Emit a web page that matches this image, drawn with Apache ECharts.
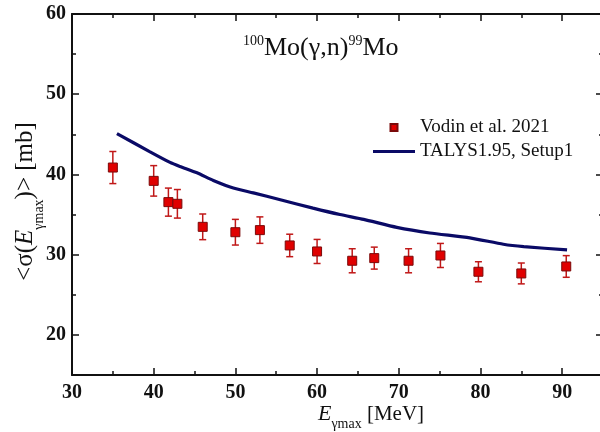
<!DOCTYPE html>
<html>
<head>
<meta charset="utf-8">
<script src="https://cdn.jsdelivr.net/npm/echarts@6/dist/echarts.min.js"></script>
<style>html,body{margin:0;padding:0;background:#fff}#c{width:600px;height:432px}</style>
</head>
<body>
<div id="c"></div>
<script>
// Experimental data: Vodin et al. 2021
const energies = [35, 40, 41.8, 42.9, 46, 50, 53, 56.65, 60, 64.3, 67, 71.2, 75.1, 79.75, 85, 90.5];
const sigma = [40.86, 39.2, 36.55, 36.34, 33.47, 32.8, 33.06, 31.15, 30.4, 29.24, 29.57, 29.24, 29.9, 27.87, 27.66, 28.53];
const sigmaErr = [2.0, 1.9, 1.75, 1.78, 1.6, 1.6, 1.65, 1.4, 1.5, 1.5, 1.37, 1.5, 1.5, 1.25, 1.3, 1.35];
// TALYS1.95 calculation
const talysE = [35.5, 39.5, 42, 43.2, 45.3, 47.3, 49.75, 52.2, 55.5, 59.5, 62.8, 65.7, 69.75, 73.8, 78.7, 82.8, 85.3, 90.6];
const talysSigma = [45.1, 42.85, 41.5, 41.0, 40.2, 39.25, 38.3, 37.7, 36.85, 35.8, 35.0, 34.4, 33.4, 32.7, 32.1, 31.3, 31.0, 30.6];
const xTicksMajor = [30, 40, 50, 60, 70, 80, 90];
const yTicksMajor = [20, 30, 40, 50, 60];

const FONT = '"Liberation Serif", "DejaVu Serif", serif';
const INK = '#111';

const chart = echarts.init(document.getElementById('c'), null, {renderer: 'canvas'});

function majorX(pos, labels) {
  return {
    type: 'value', position: pos, min: 30, max: 95, interval: 10,
    axisLine: {show: true, onZero: false, lineStyle: {color: INK, width: 2}},
    axisTick: {show: true, inside: true, length: 7, lineStyle: {color: INK, width: 1.5}},
    axisLabel: {show: labels, margin: 8, color: INK, fontFamily: FONT, fontSize: 20, fontWeight: 'bold',
      formatter: v => xTicksMajor.includes(v) ? String(v) : ''},
    splitLine: {show: false}
  };
}
function minorX(pos) {
  return {
    type: 'value', position: pos, min: 30, max: 95, interval: 5,
    axisLine: {show: false, onZero: false},
    axisTick: {show: true, inside: true, length: 4, lineStyle: {color: INK, width: 1.5}},
    axisLabel: {show: false}, splitLine: {show: false}
  };
}
function majorY(pos, labels) {
  return {
    type: 'value', position: pos, min: 15, max: 60,
    axisLine: {show: true, onZero: false, lineStyle: {color: INK, width: 2}},
    axisTick: {show: true, inside: true, length: 7, lineStyle: {color: INK, width: 1.5}},
    axisLabel: {show: labels, margin: 6, color: INK, fontFamily: FONT, fontSize: 20, fontWeight: 'bold',
      formatter: v => yTicksMajor.includes(v) ? String(v) : ''},
    splitLine: {show: false}
  };
}
function minorY(pos) {
  return {
    type: 'value', position: pos, min: 15, max: 60, interval: 5,
    axisLine: {show: false, onZero: false},
    axisTick: {show: true, inside: true, length: 4, lineStyle: {color: INK, width: 1.5}},
    axisLabel: {show: false}, splitLine: {show: false}
  };
}

const xMain = majorX('bottom', true);
xMain.name = '{e|E}{s|γmax}{m| [MeV]}';
xMain.nameLocation = 'middle';
xMain.nameGap = 22;
xMain.nameMoveOverlap = false;
xMain.nameTextStyle = {
  padding: [0, 0, 0, 67],
  rich: {
    e: {fontFamily: FONT, fontSize: 22, fontStyle: 'italic', color: INK, lineHeight: 34},
    s: {fontFamily: FONT, fontSize: 14, color: INK, lineHeight: 14, verticalAlign: 'bottom'},
    m: {fontFamily: FONT, fontSize: 21, color: INK, lineHeight: 34}
  }
};

const yMain = majorY('left', true);
yMain.name = '{m|<σ(}{e|E}{s|γmax}{m|)> [mb]}';
yMain.nameLocation = 'middle';
yMain.nameRotate = 90;
yMain.nameGap = 26;
yMain.nameMoveOverlap = false;
yMain.nameTextStyle = {
  padding: [0, 14, 0, 0],
  rich: {
    m: {fontFamily: FONT, fontSize: 25, color: INK, lineHeight: 42},
    e: {fontFamily: FONT, fontSize: 25, fontStyle: 'italic', color: INK, lineHeight: 42},
    s: {fontFamily: FONT, fontSize: 14, color: INK, lineHeight: 14, verticalAlign: 'bottom'}
  }
};

const errData = energies.map((e, i) => [e, sigma[i] - sigmaErr[i], sigma[i] + sigmaErr[i]]);

chart.setOption({
  animation: false,
  backgroundColor: '#fff',
  title: {
    text: '{sup|100}{m|Mo(γ,n)}{sup|99}{m|Mo}',
    left: 243, top: 34, padding: 0,
    textStyle: {
      fontWeight: 'normal',
      rich: {
        m: {fontFamily: FONT, fontSize: 26, fontWeight: 'normal', color: INK, lineHeight: 28},
        sup: {fontFamily: FONT, fontSize: 14, fontWeight: 'normal', color: INK, lineHeight: 13, verticalAlign: 'top'}
      }
    }
  },
  grid: {left: 72, width: 531, top: 14, bottom: 57, containLabel: false, outerBoundsMode: 'none'},
  xAxis: [xMain, minorX('bottom'), majorX('top', false), minorX('top')],
  yAxis: [yMain, minorY('left'), majorY('right', false), minorY('right')],
  legend: {
    orient: 'vertical', left: 373, top: 118, padding: 0,
    itemWidth: 42, itemHeight: 7, itemGap: 5,
    textStyle: {fontFamily: FONT, fontSize: 19, color: INK},
    data: [
      {name: 'Vodin et al. 2021', icon: 'path://M0,0H10V10H0Z'},
      {name: 'TALYS1.95, Setup1', icon: 'path://M0,0H42V3H0Z'}
    ]
  },
  series: [
    {
      name: 'TALYS1.95, Setup1', type: 'line', xAxisIndex: 0, yAxisIndex: 0,
      data: talysE.map((e, i) => [e, talysSigma[i]]),
      symbol: 'none', smooth: 0.2,
      lineStyle: {color: '#0a0a66', width: 3.2},
      itemStyle: {color: '#0a0a66'},
      z: 2
    },
    {
      name: 'err', type: 'custom', xAxisIndex: 0, yAxisIndex: 0,
      data: errData,
      renderItem: function (params, api) {
        const x = api.value(0);
        const lo = api.coord([x, api.value(1)]);
        const hi = api.coord([x, api.value(2)]);
        const cap = 3.5;
        const st = {stroke: '#c01818', lineWidth: 1.5};
        return {
          type: 'group',
          children: [
            {type: 'line', shape: {x1: lo[0], y1: lo[1], x2: hi[0], y2: hi[1]}, style: st},
            {type: 'line', shape: {x1: lo[0] - cap, y1: lo[1], x2: lo[0] + cap, y2: lo[1]}, style: st},
            {type: 'line', shape: {x1: hi[0] - cap, y1: hi[1], x2: hi[0] + cap, y2: hi[1]}, style: st}
          ]
        };
      },
      z: 3
    },
    {
      name: 'Vodin et al. 2021', type: 'scatter', xAxisIndex: 0, yAxisIndex: 0,
      data: energies.map((e, i) => [e, sigma[i]]),
      symbol: 'rect', symbolSize: 9,
      itemStyle: {color: '#e00000', borderColor: '#7a0a0a', borderWidth: 1, opacity: 1},
      z: 4
    }
  ]
});
</script>
</body>
</html>
